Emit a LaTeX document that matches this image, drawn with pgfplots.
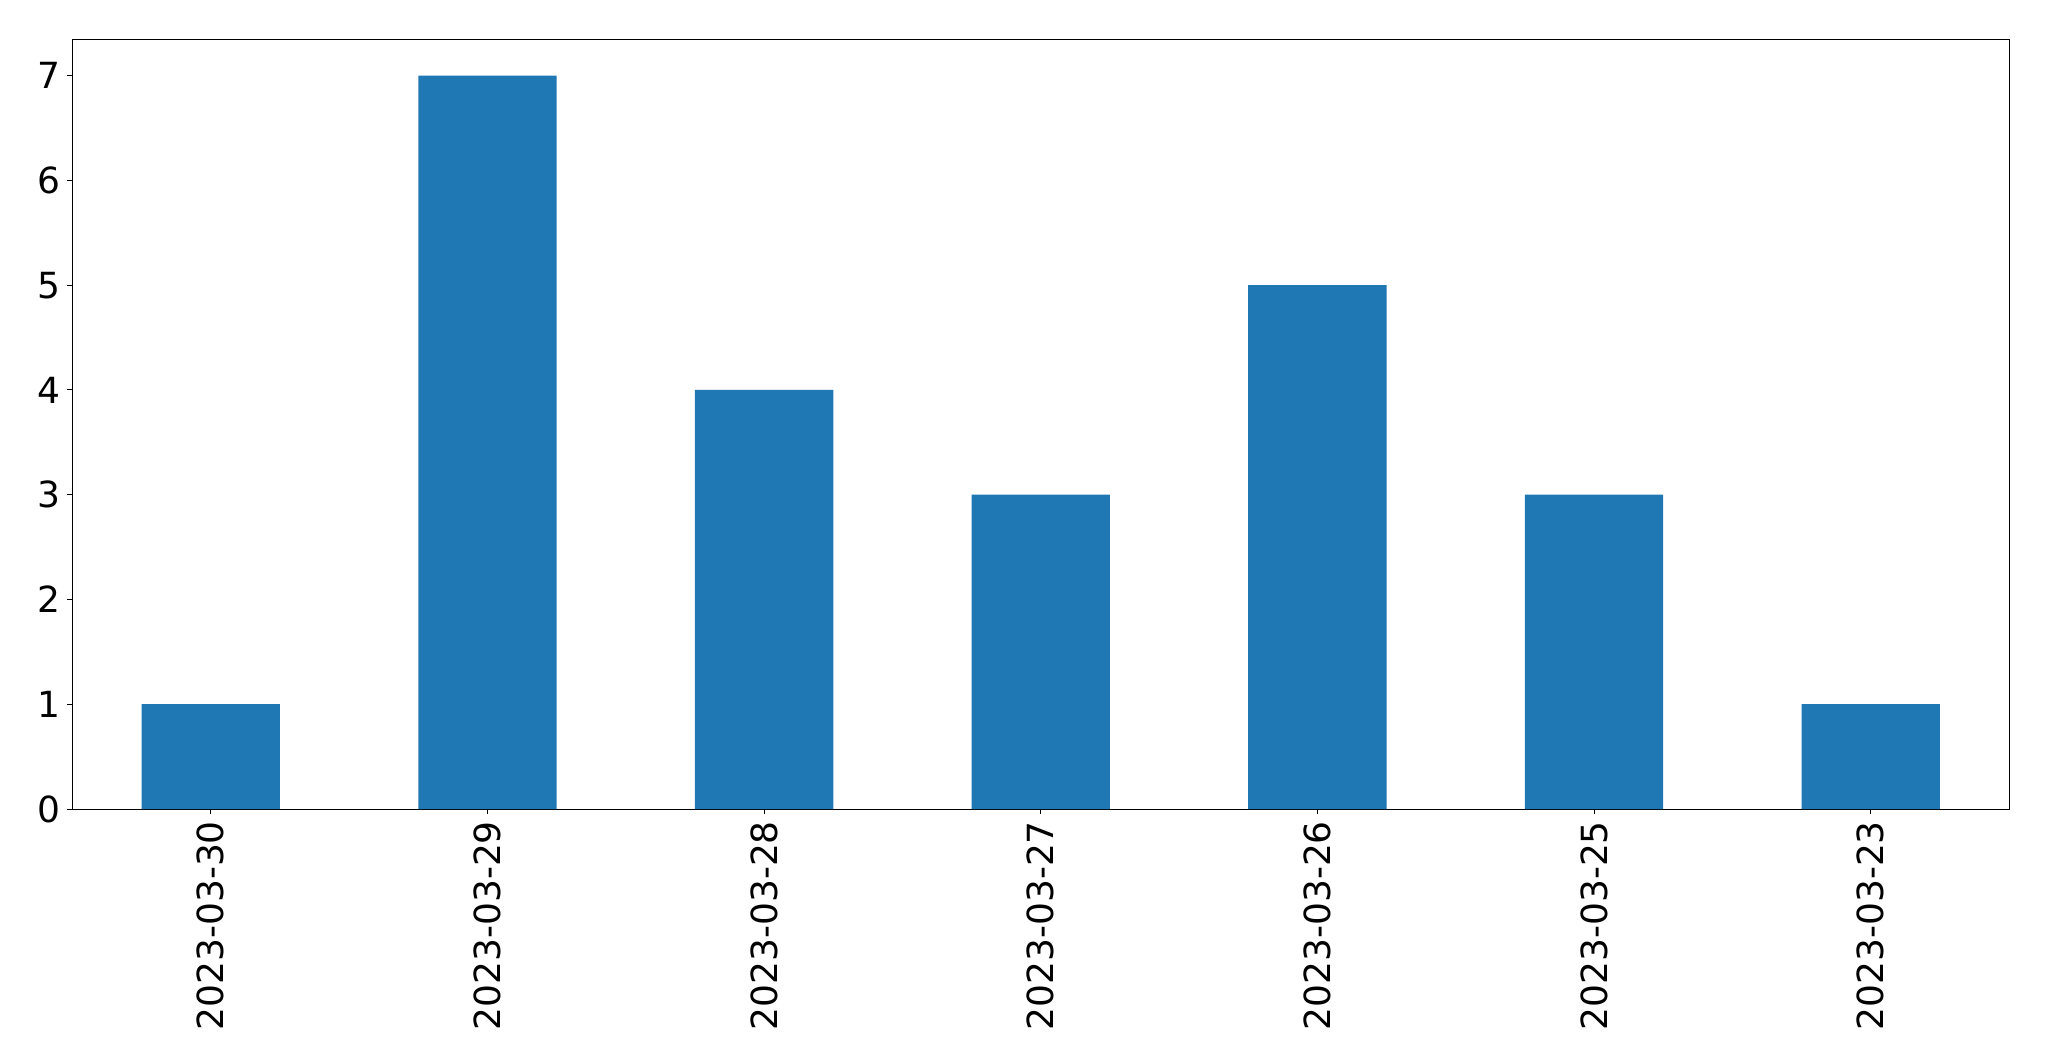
\documentclass[border=0pt]{standalone}
\usepackage{pgfplots}
\pgfplotsset{compat=1.18}
\usepackage{fontspec}
\setmainfont{DejaVu Sans}
\definecolor{mplblue}{HTML}{1F77B4}
\begin{document}
\begin{tikzpicture}
\useasboundingbox (-36.25pt,-126pt) rectangle (988.25pt,404.5pt);
\begin{axis}[
  at={(0,0)}, anchor=south west,
  scale only axis, width=968.25pt, height=385pt,
  xmin=-0.5, xmax=6.5, ymin=0, ymax=7.35,
  ybar, bar width=0.5, bar shift=0,
  xtick={0,1,2,3,4,5,6},
  xticklabels={2023-03-30,2023-03-29,2023-03-28,2023-03-27,2023-03-26,2023-03-25,2023-03-23},
  ytick={0,1,2,3,4,5,6,7},
  xtick pos=bottom, ytick pos=left,
  tick align=outside, major tick length=2.5pt,
  every tick/.style={black, line width=0.5pt},
  axis line style={line width=0.5pt},
  tick label style={font=\fontsize{18}{18}\selectfont},
  x tick label style={rotate=90, anchor=east},
  /pgf/number format/assume math mode=true,
]
\addplot[fill=mplblue, draw=none] coordinates {(0,1) (1,7) (2,4) (3,3) (4,5) (5,3) (6,1)};
\end{axis}
\end{tikzpicture}
\end{document}
